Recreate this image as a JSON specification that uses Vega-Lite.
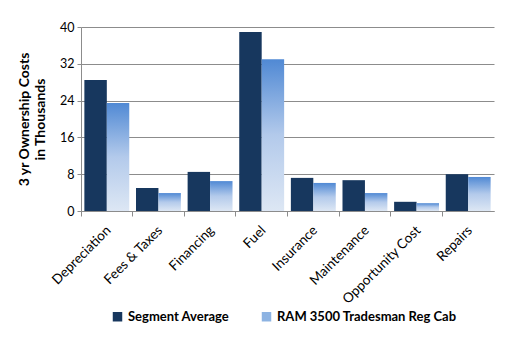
{
  "$schema": "https://vega.github.io/schema/vega-lite/v6.json",
  "width": 413,
  "height": 184,
  "autosize": {"type": "none"},
  "padding": {"left": 81, "top": 27, "right": 18, "bottom": 140},
  "background": "white",
  "config": {
    "view": {"stroke": null},
    "font": "Lato",
    "axis": {"labelFont": "Lato", "titleFont": "Lato"}
  },
  "data": {
    "values": [
      {"category": "Depreciation", "series": "Segment Average", "value": 28.5},
      {"category": "Depreciation", "series": "RAM 3500  Tradesman  Reg Cab", "value": 23.5},
      {"category": "Fees & Taxes", "series": "Segment Average", "value": 5.0},
      {"category": "Fees & Taxes", "series": "RAM 3500  Tradesman  Reg Cab", "value": 3.9},
      {"category": "Financing", "series": "Segment Average", "value": 8.5},
      {"category": "Financing", "series": "RAM 3500  Tradesman  Reg Cab", "value": 6.5},
      {"category": "Fuel", "series": "Segment Average", "value": 38.9},
      {"category": "Fuel", "series": "RAM 3500  Tradesman  Reg Cab", "value": 33.0},
      {"category": "Insurance", "series": "Segment Average", "value": 7.2},
      {"category": "Insurance", "series": "RAM 3500  Tradesman  Reg Cab", "value": 6.1},
      {"category": "Maintenance", "series": "Segment Average", "value": 6.7},
      {"category": "Maintenance", "series": "RAM 3500  Tradesman  Reg Cab", "value": 3.9},
      {"category": "Opportunity Cost", "series": "Segment Average", "value": 2.0},
      {"category": "Opportunity Cost", "series": "RAM 3500  Tradesman  Reg Cab", "value": 1.7},
      {"category": "Repairs", "series": "Segment Average", "value": 8.0},
      {"category": "Repairs", "series": "RAM 3500  Tradesman  Reg Cab", "value": 7.4}
    ]
  },
  "encoding": {
    "x": {
      "field": "category", "type": "nominal", "sort": null,
      "scale": {"paddingInner": 0, "paddingOuter": 0},
      "axis": {
        "title": null, "bandPosition": 0, "labelOffset": -3,
        "labelAngle": -45, "labelFontSize": 13.5, "labelColor": "#000000",
        "labelPadding": 7,
        "domainColor": "#8c8c8c", "tickColor": "#8c8c8c", "tickSize": 5,
        "grid": false
      }
    },
    "xOffset": {
      "field": "series", "type": "nominal", "sort": ["Segment Average", "RAM 3500  Tradesman  Reg Cab"],
      "scale": {"paddingInner": 0, "paddingOuter": 0.15}
    },
    "y": {
      "field": "value", "type": "quantitative",
      "scale": {"domain": [0, 40], "nice": false},
      "axis": {
        "values": [0, 8, 16, 24, 32, 40],
        "title": ["3 yr Ownership Costs", "in Thousands"],
        "titleFontSize": 14, "titleFontWeight": "bold", "titleColor": "#000000",
        "titlePadding": 12, "titleLineHeight": 16,
        "labelFontSize": 12.5, "labelColor": "#000000", "labelPadding": 3,
        "domainColor": "#8c8c8c", "tickColor": "#8c8c8c", "tickSize": 4,
        "gridColor": "#8c8c8c", "gridWidth": 1
      }
    }
  },
  "layer": [
    {
      "transform": [{"filter": "datum.series === 'Segment Average'"}],
      "mark": {"type": "bar"},
      "encoding": {
        "color": {
          "field": "series", "type": "nominal",
          "scale": {
            "domain": ["Segment Average", "RAM 3500  Tradesman  Reg Cab"],
            "range": ["#17375E", "#8DB3E2"]
          },
          "legend": {
            "title": null, "orient": "none", "direction": "horizontal",
            "legendX": 30, "legendY": 283,
            "symbolType": "square", "symbolSize": 90, "symbolStrokeWidth": 0,
            "labelFontSize": 13, "labelFontWeight": "bold", "labelColor": "#000000",
            "labelLimit": 400,
            "columnPadding": 30, "labelOffset": 4
          }
        }
      }
    },
    {
      "transform": [{"filter": "datum.series !== 'Segment Average'"}],
      "mark": {
        "type": "bar",
        "fill": {
          "gradient": "linear", "x1": 0, "y1": 0, "x2": 0, "y2": 1,
          "stops": [
            {"offset": 0, "color": "#5089D4"},
            {"offset": 0.5, "color": "#B3CAEB"},
            {"offset": 1, "color": "#DDE7F4"}
          ]
        }
      }
    }
  ]
}
